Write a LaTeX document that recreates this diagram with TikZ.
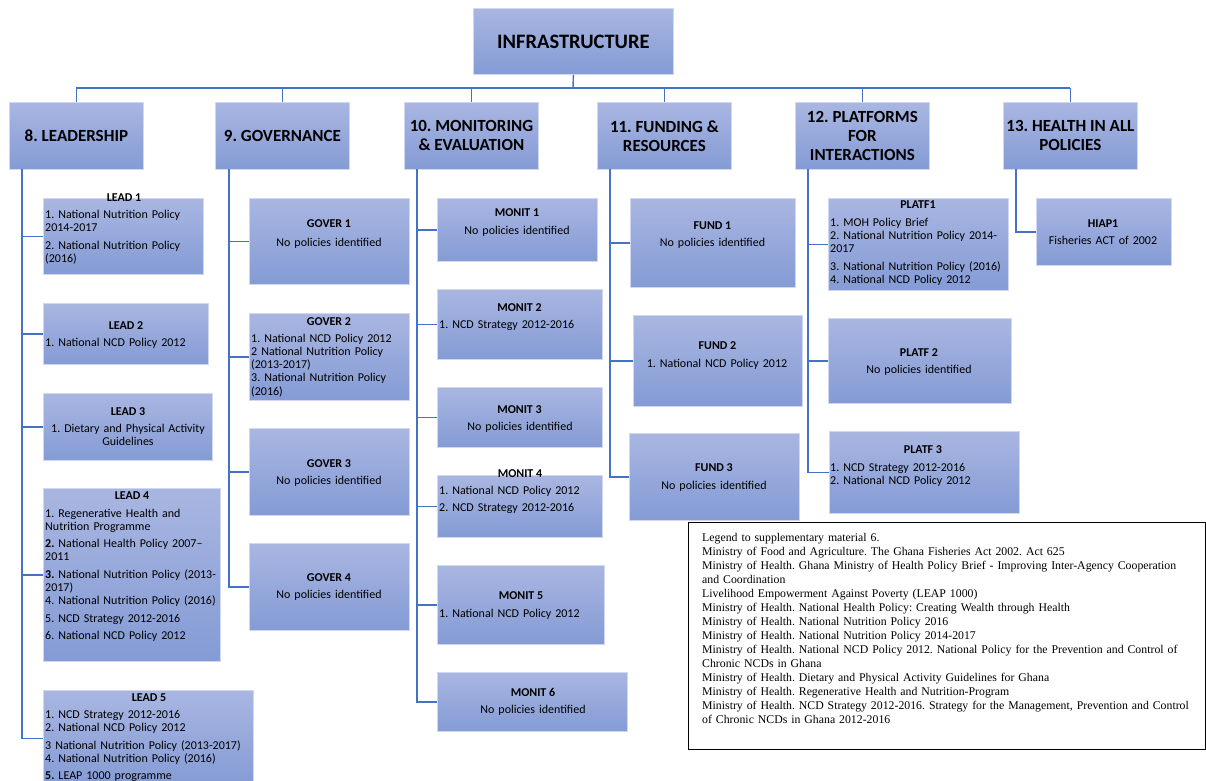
\documentclass[tikz,border=0pt]{standalone}
\usepackage{fontspec}
\setmainfont{Carlito}
\newfontfamily\legendfont{Liberation Serif}
\definecolor{gtop}{RGB}{169,182,225}
\definecolor{gbot}{RGB}{132,155,213}
\definecolor{boxedge}{RGB}{208,216,241}
\definecolor{linkblue}{RGB}{68,114,196}
\newcommand{\bx}[5]{\node[box, minimum width={#4pt-#2pt}, minimum height={#5pt-#3pt}] (#1) at (#2,#3) {};}
\frenchspacing
\begin{document}
\frenchspacing
\begin{tikzpicture}[x=1pt,y=-1pt,
  box/.style={draw=boxedge, line width=0.8pt, top color=gtop, bottom color=gbot, rectangle, inner sep=0pt, anchor=north west},
  link/.style={draw=linkblue, line width=1.4pt},
  ttl/.style={font=\fontsize{12}{13.3}\selectfont\bfseries, inner sep=0pt, anchor=base},
  itm/.style={font=\fontsize{12}{13.3}\selectfont, inner sep=0pt, text width=230pt, align=left, anchor=base west},
  ctr/.style={font=\fontsize{12}{13.3}\selectfont, inner sep=0pt, text width=200pt, align=center, anchor=base},
  head/.style={box, font=\fontsize{17}{19}\selectfont\bfseries, align=center},
]
\useasboundingbox (0,0) rectangle (1206,780);

% ---- top level
\node[box, minimum width=200pt, minimum height=66pt, font=\fontsize{20.5}{22}\selectfont\bfseries] (infra) at (473,8) {INFRASTRUCTURE};

\node[head, minimum width=134pt, minimum height=67pt] (c8)  at (9,102)   {8. LEADERSHIP};
\node[head, minimum width=134pt, minimum height=67pt] (c9)  at (215,102) {9. GOVERNANCE};
\node[head, minimum width=134pt, minimum height=67pt] (c10) at (404,102) {10. MONITORING\\\& EVALUATION};
\node[head, minimum width=134pt, minimum height=67pt] (c11) at (597,102) {11. FUNDING \&\\RESOURCES};
\node[head, minimum width=134pt, minimum height=67pt] (c12) at (795,102) {12. PLATFORMS\\FOR\\INTERACTIONS};
\node[head, minimum width=134pt, minimum height=67pt] (c13) at (1003,102) {13. HEALTH IN ALL\\POLICIES};

\coordinate (bus) at (573,88);
\draw[link] (infra.south) -- (bus);
\draw[link] (c8.north |- bus) -- (c13.north |- bus);
\foreach \c in {c8,c9,c10,c11,c12,c13} \draw[link] (\c.north |- bus) -- (\c.north);

% ---- stems
\coordinate (s8) at (22,169);
\coordinate (s9) at (229,169);
\coordinate (s10) at (417,169);
\coordinate (s11) at (610,169);
\coordinate (s12) at (808,169);
\coordinate (s13) at (1016,169);

% ---- LEADERSHIP
\bx{lead1}{43}{198}{203}{274}
\bx{lead2}{43}{303}{208}{364}
\bx{lead3}{43}{393}{212}{460}
\bx{lead4}{43}{488}{220}{661}
\bx{lead5}{43}{690}{253}{786}
\draw[link] (s8) |- (lead5.west);
\foreach \b in {lead1,lead2,lead3,lead4} \draw[link] (s8 |- \b.west) -- (\b.west);

\node[ttl] (lead1h) at (124,201) {LEAD 1};
\node[itm] (lead1t) at (45,218) {1. National Nutrition Policy\\2014-2017\\[4.5pt]2. National Nutrition Policy\\(2016)};
\node[ttl] (lead2h) at (126,329) {LEAD 2};
\node[itm] (lead2t) at (45,346) {1. National NCD Policy 2012};
\node[ttl] (lead3h) at (128,415) {LEAD 3};
\node[ctr] (lead3t) at (128,432) {1. Dietary and Physical Activity\\Guidelines};
\node[ttl] (lead4h) at (132,499) {LEAD 4};
\node[itm] (lead4t) at (45,517) {1. Regenerative Health and\\Nutrition Programme\\[4pt]\textbf{2.} National Health Policy 2007–\\2011\\[4pt]\textbf{3.} National Nutrition Policy (2013-\\2017)\\4. National Nutrition Policy (2016)\\[4pt]5. NCD Strategy 2012-2016\\[4pt]6. National NCD Policy 2012};
\node[ttl] (lead5h) at (149,701) {LEAD 5};
\node[itm] (lead5t) at (45,718) {1. NCD Strategy 2012-2016\\2. National NCD Policy 2012\\[4.5pt]3 National Nutrition Policy (2013-2017)\\4. National Nutrition Policy (2016)\\[4pt]\textbf{5.} LEAP 1000 programme};

% ---- GOVERNANCE
\bx{gov1}{249}{198}{409}{284}
\bx{gov2}{249}{313}{409}{400}
\bx{gov3}{249}{428}{409}{515}
\bx{gov4}{249}{543}{409}{630}
\draw[link] (s9) |- (gov4.west);
\foreach \b in {gov1,gov2,gov3} \draw[link] (s9 |- \b.west) -- (\b.west);

\node[ttl] (gov1h) at (329,227) {GOVER 1};
\node[ctr] (gov1t) at (329,246) {No policies identified};
\node[ttl] (gov2h) at (329,325) {GOVER 2};
\node[itm] (gov2t) at (251,342) {1. National NCD Policy 2012\\2 National Nutrition Policy\\(2013-2017)\\3. National Nutrition Policy\\(2016)};
\node[ttl] (gov3h) at (329,467) {GOVER 3};
\node[ctr] (gov3t) at (329,484) {No policies identified};
\node[ttl] (gov4h) at (329,581) {GOVER 4};
\node[ctr] (gov4t) at (329,598) {No policies identified};

% ---- MONITORING
\bx{mon1}{437}{198}{597}{261}
\bx{mon2}{437}{289}{602}{359}
\bx{mon3}{437}{387}{602}{447}
\bx{mon4}{437}{475}{602}{537}
\bx{mon5}{437}{565}{604}{644}
\bx{mon6}{437}{672}{627}{731}
\draw[link] (s10) |- (mon6.west);
\foreach \b in {mon1,mon2,mon3,mon4,mon5} \draw[link] (s10 |- \b.west) -- (\b.west);

\node[ttl] (mon1h) at (517,216) {MONIT 1};
\node[ctr] (mon1t) at (517,234) {No policies identified};
\node[ttl] (mon2h) at (519.5,311) {MONIT 2};
\node[itm] (mon2t) at (439,328) {1. NCD Strategy 2012-2016};
\node[ttl] (mon3h) at (519.5,413) {MONIT 3};
\node[ctr] (mon3t) at (520,430) {No policies identified};
\node[ttl] (mon4h) at (520,477) {MONIT 4};
\node[itm] (mon4t) at (439,494) {1. National NCD Policy 2012\\[4.5pt]2. NCD Strategy 2012-2016};
\node[ttl] (mon5h) at (521,599) {MONIT 5};
\node[itm] (mon5t) at (439,617) {1. National NCD Policy 2012};
\node[ttl] (mon6h) at (533,696) {MONIT 6};
\node[ctr] (mon6t) at (533,713) {No policies identified};

% ---- FUNDING
\bx{fund1}{630}{198}{795}{287}
\bx{fund2}{633}{315}{802}{406}
\bx{fund3}{629}{433}{799}{520}
\draw[link] (s11) |- (fund3.west);
\foreach \b in {fund1,fund2} \draw[link] (s11 |- \b.west) -- (\b.west);

\node[ttl] (fund1h) at (712.5,229) {FUND 1};
\node[ctr] (fund1t) at (712.5,246) {No policies identified};
\node[ttl] (fund2h) at (717.5,349) {FUND 2};
\node[ctr] (fund2t) at (717,367) {1. National NCD Policy 2012};
\node[ttl] (fund3h) at (714,471) {FUND 3};
\node[ctr] (fund3t) at (714,489) {No policies identified};

% ---- PLATFORMS
\bx{plat1}{828}{198}{1008}{290}
\bx{plat2}{828}{318}{1011}{403}
\bx{plat3}{829}{431}{1019}{513}
\draw[link] (s12) |- (plat3.west);
\foreach \b in {plat1,plat2} \draw[link] (s12 |- \b.west) -- (\b.west);

\node[ttl] (plat1h) at (918,208) {PLATF1};
\node[itm] (plat1t) at (830,226) {1. MOH Policy Brief\\2. National Nutrition Policy 2014-\\2017\\[4.5pt]3. National Nutrition Policy (2016)\\4. National NCD Policy 2012};
\node[ttl] (plat2h) at (919,356) {PLATF 2};
\node[ctr] (plat2t) at (919,373) {No policies identified};
\node[ttl] (plat3h) at (923,453) {PLATF 3};
\node[itm] (plat3t) at (830,471) {1. NCD Strategy 2012-2016\\2. National NCD Policy 2012};

% ---- HEALTH IN ALL POLICIES
\bx{hiap1}{1036}{198}{1171}{265}
\draw[link] (s13) |- (hiap1.west);
\node[ttl] (hiap1h) at (1103,227) {HIAP1};
\node[ctr] (hiap1t) at (1103,244) {Fisheries ACT of 2002};

% ---- legend
\node[draw=black, line width=0.9pt, rectangle, inner sep=0pt, anchor=north west, minimum width=517pt, minimum height=227pt] (legend) at (688,522) {};
\node[inner sep=0pt, anchor=base west, text width=500pt, align=left, font=\legendfont\fontsize{11.8}{14}\selectfont] (legendt) at (702,541.5) {Legend to supplementary material 6.\\
Ministry of Food and Agriculture. The Ghana Fisheries Act 2002. Act 625\\
Ministry of Health. Ghana Ministry of Health Policy Brief - Improving Inter-Agency Cooperation\\
and Coordination\\
Livelihood Empowerment Against Poverty (LEAP 1000)\\
Ministry of Health. National Health Policy: Creating Wealth through Health\\
Ministry of Health. National Nutrition Policy 2016\\
Ministry of Health. National Nutrition Policy 2014-2017\\
Ministry of Health. National NCD Policy 2012. National Policy for the Prevention and Control of\\
Chronic NCDs in Ghana\\
Ministry of Health. Dietary and Physical Activity Guidelines for Ghana\\
Ministry of Health. Regenerative Health and Nutrition-Program\\
Ministry of Health. NCD Strategy 2012-2016. Strategy for the Management, Prevention and Control\\
of Chronic NCDs in Ghana 2012-2016};
\end{tikzpicture}
\end{document}
